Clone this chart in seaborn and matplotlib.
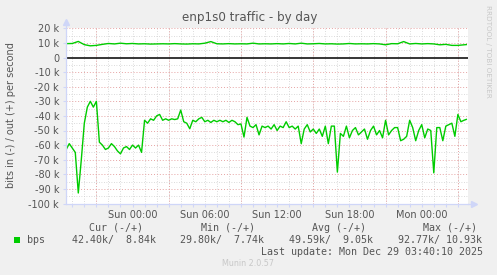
import numpy as np
import pandas as pd
import matplotlib
matplotlib.use("Agg")
import matplotlib.pyplot as plt
import seaborn as sns
from matplotlib.patches import Rectangle

# ---------------- data (hours relative to Sun 00:00) ----------------
in_hours = [-5.5, -5.25, -5.0, -4.75, -4.5, -4.25, -4.0, -3.75, -3.5, -3.25,
            -3.0, -2.75, -2.5, -2.25, -2.0, -1.75, -1.5, -1.25, -1.0, -0.75,
            -0.5, -0.25, 0.0, 0.25, 0.5, 0.75, 1.0, 1.25, 1.5, 1.75,
            2.0, 2.25, 2.5, 2.75, 3.0, 3.25, 3.5, 3.75, 4.0, 4.25,
            4.5, 4.75, 5.0, 5.25, 5.5, 5.75, 6.0, 6.25, 6.5, 6.75,
            7.0, 7.25, 7.5, 7.75, 8.0, 8.25, 8.5, 8.75, 9.0, 9.25,
            9.5, 9.75, 10.0, 10.25, 10.5, 10.75, 11.0, 11.25, 11.5, 11.75,
            12.0, 12.25, 12.5, 12.75, 13.0, 13.25, 13.5, 13.75, 14.0, 14.25,
            14.5, 14.75, 15.0, 15.25, 15.5, 15.75, 16.0, 16.25, 16.5, 16.75,
            17.0, 17.25, 17.5, 17.75, 18.0, 18.25, 18.5, 18.75, 19.0, 19.25,
            19.5, 19.75, 20.0, 20.25, 20.5, 20.75, 21.0, 21.25, 21.5, 21.75,
            22.0, 22.25, 22.5, 22.75, 23.0, 23.25, 23.5, 23.75, 24.0, 24.25,
            24.5, 24.75, 25.0, 25.25, 25.5, 25.75, 26.0, 26.25, 26.5, 26.75,
            27.0, 27.25, 27.5, 27.7]
in_kbps = [-63, -59, -62, -65, -92.8, -70, -45, -34, -30, -34,
           -30, -58, -60, -63, -62, -59, -61, -64, -66, -62,
           -61, -63, -60, -62, -60, -65, -43, -45, -42, -43,
           -40, -39, -43, -42, -43, -42, -42.5, -42, -36, -44,
           -45, -48.8, -43, -44, -42, -41, -44, -43, -44.5, -43,
           -44, -43, -44, -43, -44.5, -43, -44, -46, -45.5, -54.5,
           -41, -47, -48, -46, -53, -47, -48, -47, -49, -46,
           -50, -47, -48, -44, -48, -47, -49, -47, -59, -49,
           -46, -51, -49, -52, -49, -54, -47, -59, -47, -47,
           -78.5, -52, -54, -47, -55, -50, -48, -53, -51, -49,
           -56, -50, -47, -53, -50, -55, -43, -53, -50, -48,
           -48, -57, -56, -54, -43, -48, -57, -50, -46, -55,
           -49, -50, -79, -48, -48, -57, -47, -46, -45, -54,
           -39, -44, -43, -42.4]

out_hours = [-5.5, -5.0, -4.5, -4.0, -3.5, -3.0, -2.5, -2.0, -1.5, -1.0,
             -0.5, 0.0, 0.5, 1.0, 1.5, 2.0, 2.5, 3.0, 3.5, 4.0,
             4.5, 5.0, 5.5, 6.0, 6.5, 7.0, 7.5, 8.0, 8.5, 9.0,
             9.5, 10.0, 10.5, 11.0, 11.5, 12.0, 12.5, 13.0, 13.5, 14.0,
             14.5, 15.0, 15.5, 16.0, 16.5, 17.0, 17.5, 18.0, 18.5, 19.0,
             19.5, 20.0, 20.5, 21.0, 21.5, 22.0, 22.5, 23.0, 23.5, 24.0,
             24.5, 25.0, 25.5, 26.0, 26.5, 27.0, 27.7]
out_kbps = [9.5, 9.6, 11.0, 8.8, 8.0, 8.3, 9.0, 9.6, 9.3, 9.8,
            9.4, 9.6, 9.3, 9.4, 9.2, 9.3, 9.4, 9.3, 9.5, 9.3,
            9.2, 9.4, 9.3, 9.8, 10.9, 9.4, 9.3, 9.5, 9.3, 9.4,
            9.3, 9.8, 9.3, 9.4, 9.3, 9.5, 9.3, 9.6, 9.3, 9.8,
            9.3, 9.4, 9.6, 9.3, 9.4, 9.2, 9.3, 9.6, 9.3, 9.4,
            9.3, 9.5, 9.3, 8.7, 9.5, 9.4, 10.9, 9.3, 9.6, 9.3,
            9.5, 9.3, 8.7, 9.0, 8.3, 8.3, 8.84]

y_ticks = [20, 10, 0, -10, -20, -30, -40, -50, -60, -70, -80, -90, -100]
y_tick_labels = ["20 k", "10 k", "0", "-10 k", "-20 k", "-30 k", "-40 k",
                 "-50 k", "-60 k", "-70 k", "-80 k", "-90 k", "-100 k"]
x_ticks = [0, 6, 12, 18, 24]
x_tick_labels = ["Sun 00:00", "Sun 06:00", "Sun 12:00", "Sun 18:00", "Mon 00:00"]
major_vgrid = [-3, 3, 9, 15, 21, 27]

legend_headers = ["Cur (-/+)", "Min (-/+)", "Avg (-/+)", "Max (-/+)"]
legend_values = ["42.40k/  8.84k", "29.80k/  7.74k", "49.59k/  9.05k", "92.77k/ 10.93k"]

# ---------------- figure ----------------
W, H = 497, 275
BG = "#f0f0f0"
GREEN = "#00cc00"
AXC = "#cfd6f8"
TXT = "#555555"
MGRID = "#e6a3a3"
GRID = "#cfcfcf"
X0, X1 = -5.52, 27.84

fig = plt.figure(figsize=(W / 100, H / 100), dpi=100, facecolor=BG)
ax = fig.add_axes([66 / W, 1 - 203.5 / H, (468 - 66) / W, (203.5 - 28.3) / H])
ax.set_facecolor("white")

def T(x, y, s, **kw):
    fig.text(x / W, 1 - y / H, s, **kw)

# grid
for v in np.arange(-95, 20, 10):
    ax.axhline(v, color=GRID, lw=0.6, ls=(0, (1, 2)), zorder=1)
for v in y_ticks:
    if v != 0:
        ax.axhline(v, color=MGRID, lw=0.7, ls=(0, (1, 2)), zorder=1.1)
for h in range(-5, 28):
    ax.axvline(h, color=GRID, lw=0.6, ls=(0, (1, 2)), zorder=1)
for h in major_vgrid:
    ax.axvline(h, color=MGRID, lw=0.7, ls=(0, (1, 2)), zorder=1.1)

df_in = pd.DataFrame({"h": in_hours, "v": in_kbps})
df_out = pd.DataFrame({"h": out_hours, "v": out_kbps})
sns.lineplot(data=df_in, x="h", y="v", ax=ax, color=GREEN, lw=1.0, zorder=3)
sns.lineplot(data=df_out, x="h", y="v", ax=ax, color=GREEN, lw=1.0, zorder=3)
ax.axhline(0, color="black", lw=1.1, zorder=4)

ax.set_xlim(X0, X1)
ax.set_ylim(-100, 20)
ax.set_xlabel("")
ax.set_ylabel("")
for s in ["top", "right"]:
    ax.spines[s].set_visible(False)
for s in ["left", "bottom"]:
    ax.spines[s].set_color(AXC)
    ax.spines[s].set_linewidth(0.9)
    ax.spines[s].set_zorder(5)

ax.set_yticks(y_ticks)
ax.set_yticklabels(y_tick_labels)
ax.set_xticks(x_ticks)
ax.set_xticklabels(x_tick_labels)
ax.set_xticks(list(range(-5, 28)), minor=True)
ax.tick_params(axis="both", labelsize=7, colors=AXC, labelcolor=TXT, length=2, width=0.8)
ax.tick_params(axis="x", which="minor", colors=AXC, length=2, width=0.8)
ax.tick_params(axis="x", pad=3)
ax.tick_params(axis="y", pad=3)

# arrows
ax.plot([0], [1.035], marker="^", ms=4.5, color=AXC, transform=ax.transAxes, clip_on=False)
ax.plot([0, 0], [1.0, 1.03], color=AXC, lw=0.9, transform=ax.transAxes, clip_on=False)
ax.plot([1.0, 1.012], [0, 0], color=AXC, lw=0.9, transform=ax.transAxes, clip_on=False)
ax.plot([1.015], [0], marker=">", ms=4.5, color=AXC, transform=ax.transAxes, clip_on=False)

# texts
T(250, 17, "enp1s0 traffic - by day", ha="center", va="center", fontsize=8.6, color=TXT)
T(11.5, 115, "bits in (-) / out (+) per second", ha="center", va="center",
  rotation=90, fontsize=7, color=TXT)
T(488, 5, "RRDTOOL / TOBI OETIKER", ha="center", va="top", rotation=270,
  fontsize=5.2, color="#c8c8c8")

mono = dict(family="DejaVu Sans Mono", fontsize=7.2, color=TXT, va="center")
for xpos, s in zip([89, 201, 312, 423], legend_headers):
    T(xpos, 228, s, ha="left", **mono)
T(27, 240, "bps", ha="left", **mono)
for xpos, s in zip([72.3, 180.5, 289.3, 397.5], legend_values):
    T(xpos, 240, s, ha="left", **mono)
T(482.7, 252, "Last update: Mon Dec 29 03:40:10 2025", ha="right", **mono)
T(248, 264, "Munin 2.0.57", ha="center", va="center", fontsize=5.8, color="#c8c8c8")
fig.patches.append(Rectangle((14 / W, 1 - 243 / H), 6 / W, 6 / H, transform=fig.transFigure,
                             facecolor=GREEN, edgecolor="none"))

fig.savefig("out.png", dpi=100, facecolor=BG)
